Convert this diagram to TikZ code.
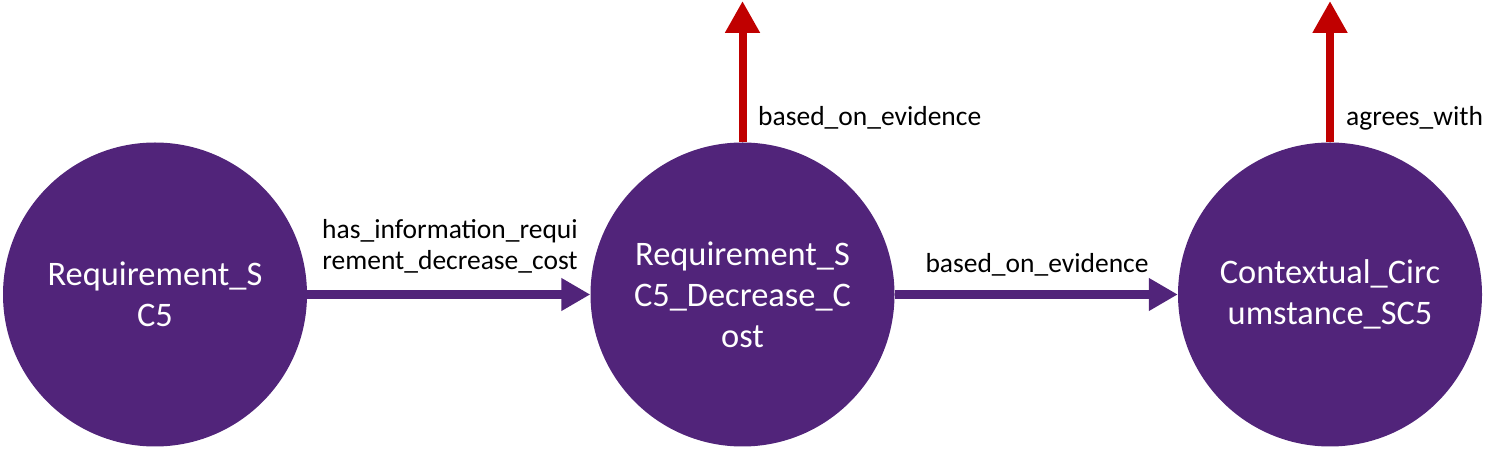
\documentclass[tikz,border=0pt]{standalone}
\usepackage{fontspec}
\setmainfont{Carlito}
\usetikzlibrary{arrows.meta}
\definecolor{purp}{HTML}{51247A}
\definecolor{redc}{HTML}{C00000}
\tikzset{
  concept/.style={circle, fill=purp, draw=none, minimum size=304pt, inner sep=0pt,
    text=white, align=center, font=\fontsize{34.4}{41}\selectfont},
  parrow/.style={draw=purp, line width=9pt, -{Triangle[length=29pt,width=31pt]}},
  rarrow/.style={draw=redc, line width=8pt, -{Triangle[length=32pt,width=33pt]}},
  lbl/.style={inner sep=0pt, font=\fontsize{27.5}{31}\selectfont, text=black, align=center}
}
\begin{document}
\begin{tikzpicture}[x=1pt,y=1pt]
\useasboundingbox (0,0) rectangle (1501,449);
\node[concept] (r1) at (155,154.5) {Requirement\_S\\C5};
\node[concept] (r2) at (742.5,154.5) {Requirement\_S\\C5\_Decrease\_C\\ost};
\node[concept] (r3) at (1330,154.5) {Contextual\_Circ\\umstance\_SC5};
\coordinate (t2) at (742.5,448);
\coordinate (t3) at (1330,448);
\draw[parrow] (r1) -- (r2);
\draw[parrow] (r2) -- (r3);
\draw[rarrow] (r2.north) -- (t2);
\draw[rarrow] (r3.north) -- (t3);
\node[lbl, anchor=base] (l1a) at (450,210) {has\_information\_requi};
\node[lbl, anchor=base] (l1b) at (450,179) {rement\_decrease\_cost};
\node[lbl, anchor=base] (l2) at (1037,176) {based\_on\_evidence};
\node[lbl, anchor=base west] (l3) at (758,323) {based\_on\_evidence};
\node[lbl, anchor=base west] (l4) at (1346,323) {agrees\_with};
\end{tikzpicture}
\end{document}
